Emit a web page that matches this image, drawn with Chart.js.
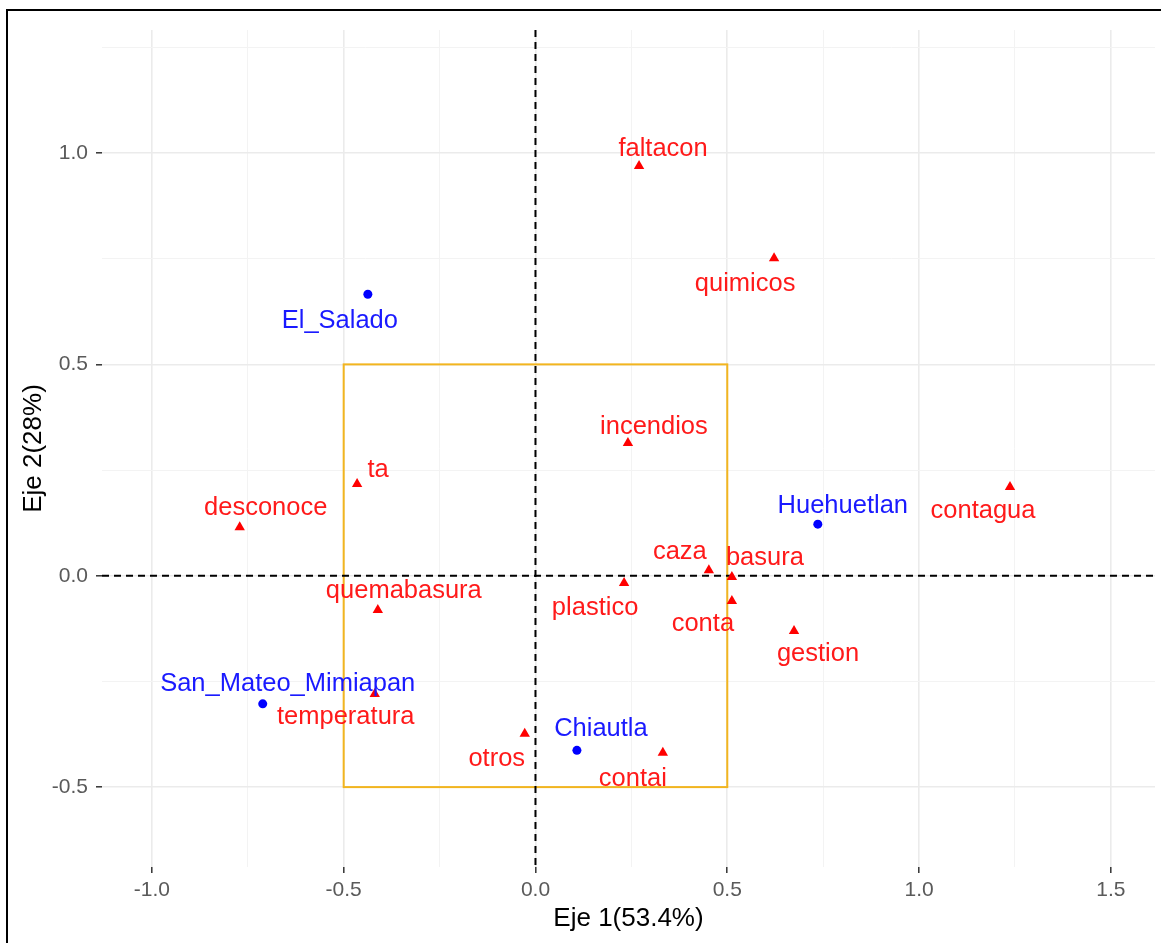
<!DOCTYPE html>
<html>
<head>
<meta charset="utf-8">
<script src="https://cdn.jsdelivr.net/npm/chart.js@4.4.0/dist/chart.umd.min.js"></script>
<style>
  html, body { margin: 0; padding: 0; background: #fff; overflow: hidden; }
  #frame { position: absolute; left: 6px; top: 9px; width: 2000px; height: 2000px; border: 2px solid #000; }
  #c { position: absolute; left: 0; top: 0; }
</style>
</head>
<body>
<div id="frame"></div>
<canvas id="c" width="1161" height="943"></canvas>
<script>
// sites (rows)
const rowNames = ['El_Salado', 'Huehuetlan', 'San_Mateo_Mimiapan', 'Chiautla'];
const rowX = [-0.437, 0.736, -0.711, 0.108];
const rowY = [0.666, 0.122, -0.303, -0.413];

// variables (columns)
const colNames = ['faltacon', 'quimicos', 'incendios', 'ta', 'desconoce', 'contagua', 'caza', 'basura',
                  'plastico', 'conta', 'gestion', 'quemabasura', 'temperatura', 'otros', 'contai'];
const colX = [0.270, 0.622, 0.241, -0.465, -0.771, 1.237, 0.452, 0.512, 0.231, 0.512, 0.674, -0.411, -0.419, -0.028, 0.332];
const colY = [0.969, 0.751, 0.314, 0.217, 0.115, 0.210, 0.013, -0.003, -0.017, -0.060, -0.131, -0.081, -0.280, -0.374, -0.419];

// axis ticks
const xTicks = [-1.0, -0.5, 0.0, 0.5, 1.0, 1.5];
const yTicks = [-0.5, 0.0, 0.5, 1.0];
const xMinor = [-0.75, -0.25, 0.25, 0.75, 1.25];
const yMinor = [-0.25, 0.25, 0.75, 1.25];
const boxRange = [-0.5, 0.5];

// label nudges (px) so text sits where the repel put it
const rowNudge = [[-28, 27], [25, -18], [25, -20], [24, -21]];
const colNudge = [[24, -17], [-29, 26], [26, -16], [21, -14], [26, -19], [-27, 24], [-29, -18], [33, -19],
                  [-29, 25], [-29, 23], [24, 23], [26, -19], [-29, 23], [-28, 25], [-30, 26]];

const FONT = '"Liberation Sans", Arial, sans-serif';
const tickList = (major, minor) => [...major, ...minor].sort((a, b) => a - b).map(v => ({ value: v }));

const decor = {
  id: 'decor',
  beforeDatasetsDraw(chart) {
    const { ctx, scales: { x, y }, chartArea: a } = chart;
    ctx.save();
    // reference box
    const bx0 = x.getPixelForValue(boxRange[0]), bx1 = x.getPixelForValue(boxRange[1]);
    const by0 = y.getPixelForValue(boxRange[1]), by1 = y.getPixelForValue(boxRange[0]);
    ctx.strokeStyle = '#f2b51f';
    ctx.lineWidth = 2;
    ctx.strokeRect(bx0, by0, bx1 - bx0, by1 - by0);
    // dashed origin lines
    ctx.strokeStyle = '#000';
    ctx.lineWidth = 2;
    ctx.setLineDash([7, 5]);
    const x0 = x.getPixelForValue(0), y0 = y.getPixelForValue(0);
    ctx.beginPath();
    ctx.moveTo(x0, a.top); ctx.lineTo(x0, a.bottom);
    ctx.moveTo(a.left, y0); ctx.lineTo(a.right, y0);
    ctx.stroke();
    ctx.restore();
  },
  afterDatasetsDraw(chart) {
    const { ctx } = chart;
    ctx.save();
    ctx.font = '25.5px ' + FONT;
    ctx.textAlign = 'center';
    ctx.textBaseline = 'middle';
    const sets = [[rowNames, rowNudge, '#1a1aff'], [colNames, colNudge, '#ff1a1a']];
    sets.forEach(([names, nudge, col], di) => {
      const meta = chart.getDatasetMeta(di);
      ctx.fillStyle = col;
      meta.data.forEach((el, i) => {
        ctx.fillText(names[i], el.x + nudge[i][0], el.y + nudge[i][1]);
      });
    });
    ctx.restore();
  }
};

new Chart(document.getElementById('c'), {
  type: 'scatter',
  data: {
    datasets: [
      {
        label: 'sitios',
        data: rowX.map((v, i) => ({ x: v, y: rowY[i] })),
        pointStyle: 'circle', pointRadius: 4.5,
        backgroundColor: '#0000ff', borderWidth: 0
      },
      {
        label: 'variables',
        data: colX.map((v, i) => ({ x: v, y: colY[i] })),
        pointStyle: 'triangle', pointRadius: 6,
        backgroundColor: '#ff0000', borderWidth: 0
      }
    ]
  },
  options: {
    responsive: false,
    devicePixelRatio: 1,
    animation: false,
    layout: { padding: { top: 30, right: 0, left: 0, bottom: 0 } },
    plugins: { legend: { display: false }, tooltip: { enabled: false } },
    scales: {
      x: {
        type: 'linear', min: -1.13, max: 1.615,
        afterBuildTicks: s => { s.ticks = tickList(xTicks, xMinor); },
        afterFit: s => { s.height = 76; },
        border: { display: false },
        grid: {
          color: c => xTicks.includes(c.tick.value) ? '#ebebeb' : '#f3f3f3',
          lineWidth: c => xTicks.includes(c.tick.value) ? 1.6 : 1,
          tickLength: 6, tickWidth: 1.5,
          tickColor: c => xTicks.includes(c.tick.value) ? '#333' : 'rgba(0,0,0,0)'
        },
        ticks: {
          autoSkip: false, maxRotation: 0, padding: 5,
          color: '#5a5a5a', font: { size: 21, family: FONT },
          callback: v => xTicks.includes(v) ? v.toFixed(1) : ''
        },
        title: { display: true, text: 'Eje 1(53.4%)', color: '#000', font: { size: 26, family: FONT }, padding: { top: 0, bottom: 9 } }
      },
      y: {
        type: 'linear', min: -0.689, max: 1.291,
        afterBuildTicks: s => { s.ticks = tickList(yTicks, yMinor); },
        afterFit: s => { s.width = 102; },
        border: { display: false },
        grid: {
          color: c => yTicks.includes(c.tick.value) ? '#ebebeb' : '#f3f3f3',
          lineWidth: c => yTicks.includes(c.tick.value) ? 1.6 : 1,
          tickLength: 6, tickWidth: 1.5,
          tickColor: c => yTicks.includes(c.tick.value) ? '#333' : 'rgba(0,0,0,0)'
        },
        ticks: {
          autoSkip: false, padding: 8,
          color: '#5a5a5a', font: { size: 21, family: FONT },
          callback: v => yTicks.includes(v) ? v.toFixed(1) : ''
        },
        title: { display: true, text: 'Eje 2(28%)', color: '#000', font: { size: 26, family: FONT }, padding: { top: 18, bottom: 0 } }
      }
    }
  },
  plugins: [decor]
});
</script>
</body>
</html>
